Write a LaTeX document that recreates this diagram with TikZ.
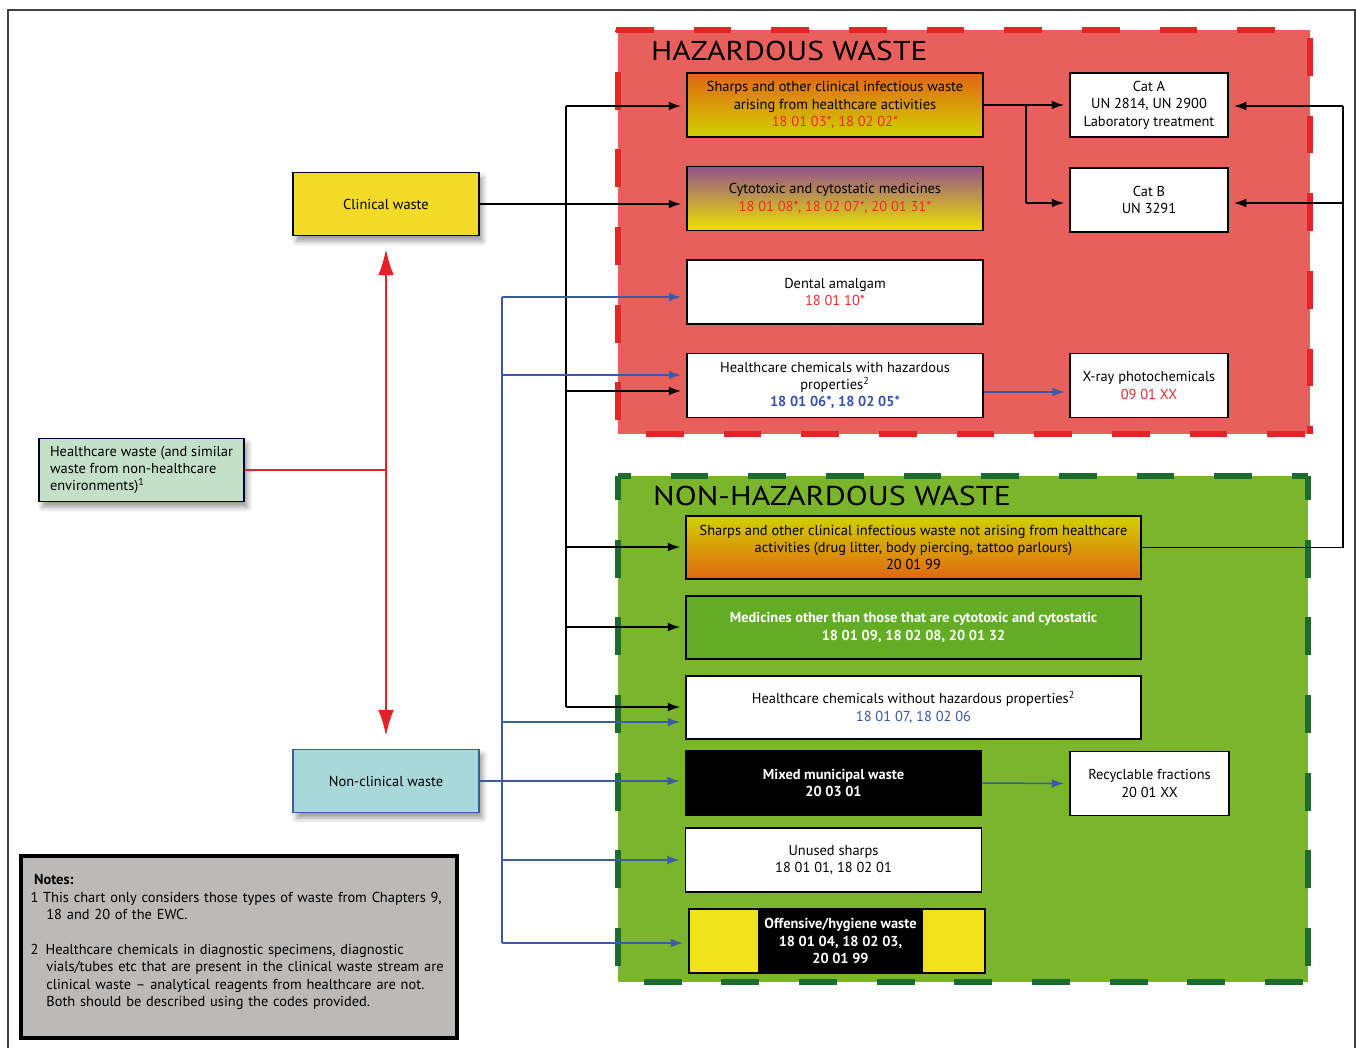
\documentclass[tikz,border=0pt]{standalone}
\usepackage{fontspec}
\setmainfont{PT Sans}
\usetikzlibrary{arrows.meta,calc,shadows.blur}
\definecolor{HazClr}{rgb}{0.91,0.376,0.361}
\definecolor{HazLineClr}{rgb}{0.89,0.145,0.157}
\definecolor{SafeClr}{rgb}{0.478,0.71,0.169}
\definecolor{SafeLineClr}{rgb}{0.118,0.42,0.188}
\definecolor{ClinClr}{rgb}{0.953,0.855,0.149}
\definecolor{SourceClr}{rgb}{0.773,0.878,0.784}
\definecolor{NonClinClr}{rgb}{0.659,0.847,0.855}
\definecolor{NoteClr}{rgb}{0.733,0.729,0.722}
\definecolor{LinkClr}{rgb}{0.231,0.357,0.663}
\definecolor{CodeRedClr}{rgb}{0.93,0.17,0.17}
\definecolor{CodeBlueClr}{rgb}{0.23,0.33,0.66}
\definecolor{MedsClr}{rgb}{0.384,0.678,0.137}
\definecolor{ArrowRedClr}{rgb}{0.89,0.13,0.15}
\definecolor{OrangeClr}{rgb}{0.88,0.40,0.07}
\definecolor{LimeClr}{rgb}{0.82,0.82,0.0}
\definecolor{PurpleClr}{rgb}{0.58,0.32,0.55}
\definecolor{LemonClr}{rgb}{0.92,0.89,0.0}
\definecolor{BagClr}{rgb}{0.94,0.89,0.11}
\definecolor{FrameClr}{rgb}{0.25,0.25,0.25}

\begin{document}
\begin{tikzpicture}[x=0.02cm,y=-0.02cm,
  font=\fontsize{8.2}{9.9}\selectfont,
  wastebox/.style={draw=black,line width=0.8pt,align=center,inner sep=2pt,fill=white},
  widebox/.style={wastebox,minimum width=5.92cm,minimum height=1.28cm},
  sidebox/.style={wastebox,minimum width=3.16cm,minimum height=1.28cm},
  longbox/.style={wastebox,minimum width=9.1cm,minimum height=1.26cm},
  srcbox/.style={draw=black!80!blue,line width=0.8pt,minimum width=3.72cm,minimum height=1.27cm,
    blur shadow={shadow xshift=2pt,shadow yshift=-3pt,shadow blur radius=3pt}},
  zonetitle/.style={anchor=base west,font=\fontsize{15.5}{17}\selectfont},
  link/.style={line width=0.85pt},
  arr/.style={link,-{Latex[length=7pt,width=5pt]},shorten >=3pt},
  bluelink/.style={link,LinkClr},
  bluearr/.style={arr,LinkClr},
  redlink/.style={ArrowRedClr,line width=1.7pt},
  redarr/.style={redlink,-{Latex[length=15pt,width=9pt]},shorten >=7pt},
  hazline/.style={HazLineClr,line width=3.4pt,dash pattern=on 21.5pt off 22.7pt},
  safeline/.style={SafeLineClr,line width=3.4pt,dash pattern=on 21.5pt off 22.7pt}]

\useasboundingbox (0,0) rectangle (1356,1048);
\draw[FrameClr,line width=1pt] (8,1048) -- (8,10) -- (1355,10) -- (1355,1048);

\fill[HazClr] (618,30) rectangle (1310,434);
\draw[hazline] (616,30) -- (1310,30);
\draw[hazline,dash phase=20.4pt] (618,30) -- (618,434);
\draw[hazline,dash phase=28.3pt] (618,434) -- (1310,434);
\draw[hazline,dash phase=39.7pt] (1310,30) -- (1310,434);

\fill[SafeClr] (618,476) rectangle (1308,982);
\draw[safeline,dash phase=14.2pt] (618,476) -- (1308,476);
\draw[safeline,dash phase=7.9pt] (618,476) -- (618,982);
\draw[safeline,dash phase=29.5pt] (618,982) -- (1308,982);
\draw[safeline,dash phase=7.9pt] (1308,476) -- (1308,982);

\node[zonetitle] (hazT) at (645,60) {\scalebox{1.16}[1]{HAZARDOUS WASTE}};
\node[zonetitle] (safeT) at (647,505) {\scalebox{1.18}[1]{NON-HAZARDOUS WASTE}};

\node[srcbox,fill=SourceClr,minimum width=4.1cm,align=left] (src) at (141.5,470) {Healthcare waste (and similar\\waste from non-healthcare\\environments)\textsuperscript{1}};
\node[srcbox,fill=ClinClr] (clin) at (386,204) {Clinical waste};
\node[srcbox,fill=NonClinClr,draw=LinkClr] (nonclin) at (386,781) {Non-clinical waste};

\node[widebox,top color=OrangeClr,bottom color=LimeClr] (sharpsH) at (835,105) {Sharps and other clinical infectious waste\\arising from healthcare activities\\\textcolor{CodeRedClr}{18 01 03*, 18 02 02*}};
\node[widebox,top color=PurpleClr,bottom color=LemonClr] (cyto) at (835,198.5) {Cytotoxic and cytostatic medicines\\\textcolor{CodeRedClr}{18 01 08*, 18 02 07*, 20 01 31*}};
\node[widebox] (dental) at (835,292) {Dental amalgam\\\textcolor{CodeRedClr}{18 01 10*}};
\node[widebox] (chemH) at (835,385.5) {Healthcare chemicals with hazardous\\properties\textsuperscript{2}\\\textcolor{CodeBlueClr}{\bfseries 18 01 06*, 18 02 05*}};
\node[sidebox] (catA) at (1149,105) {Cat A\\UN 2814, UN 2900\\Laboratory treatment};
\node[sidebox] (catB) at (1149,200) {Cat B\\UN 3291};
\node[sidebox] (xray) at (1149,385.5) {X-ray photochemicals\\\textcolor{CodeRedClr}{09 01 XX}};

\node[longbox,top color=LimeClr,bottom color=OrangeClr] (sharpsN) at (913.5,547.5) {Sharps and other clinical infectious waste not arising from healthcare\\activities (drug litter, body piercing, tattoo parlours)\\20 01 99};
\node[longbox,fill=MedsClr,text=white,font=\fontsize{8.2}{9.9}\selectfont\bfseries] (meds) at (913.5,627.5) {Medicines other than those that are cytotoxic and cytostatic\\18 01 09, 18 02 08, 20 01 32};
\node[longbox] (chemN) at (913.5,707.5) {Healthcare chemicals without hazardous properties\textsuperscript{2}\\\textcolor{CodeBlueClr}{18 01 07, 18 02 06}};
\node[widebox,fill=black,text=white,font=\fontsize{8.2}{9.9}\selectfont\bfseries] (mixed) at (833.5,783) {Mixed municipal waste\\20 03 01};
\node[widebox] (unused) at (833.5,860) {Unused sharps\\18 01 01, 18 02 01};
\node[widebox,fill=BagClr] (offens) at (837,941) {};
\node[fill=black,text=white,align=center,inner sep=0pt,minimum width=3.3cm,minimum height=1.24cm,font=\fontsize{8.2}{9.9}\selectfont\bfseries] (offensTxt) at (840.5,941) {Offensive/hygiene waste\\18 01 04, 18 02 03,\\20 01 99};
\node[sidebox,minimum width=3.18cm] (recyc) at (1149.5,783.5) {Recyclable fractions\\20 01 XX};

\node[draw=black,line width=2.2pt,fill=NoteClr,minimum width=8.72cm,minimum height=3.64cm] (notes) at (239,947) {};
\node[align=left,text width=8.3cm] (notesTxt) at (238,942) {\hspace*{2pt}\textbf{Notes:}\\
1 This chart only considers those types of waste from Chapters 9,\\
\hspace*{1.1em}18 and 20 of the EWC.\\[9.9pt]
2\hspace*{0.5em}Healthcare chemicals in diagnostic specimens, diagnostic\\
\hspace*{1.1em}vials/tubes etc that are present in the clinical waste stream are\\
\hspace*{1.1em}clinical waste -- analytical reagents from healthcare are not.\\
\hspace*{1.1em}Both should be described using the codes provided.};

\coordinate (fork) at (386,471);
\draw[redlink] (src.east) -- (src.east -| fork);
\draw[redarr] (fork) -- (clin.south);
\draw[redarr] (fork) -- (nonclin.north);

\coordinate (kA) at (566,106);
\coordinate (kB) at (566,391);
\coordinate (kC) at (566,547);
\coordinate (kD) at (566,627);
\coordinate (kE) at (566,707);
\draw[link] (kA) -- (kE);
\draw[arr] (kA) -- (kA -| sharpsH.west);
\draw[arr] (clin.east) -- (clin.east -| cyto.west);
\draw[arr] (kB) -- (kB -| chemH.west);
\draw[arr] (kC) -- (kC -| sharpsN.west);
\draw[arr] (kD) -- (kD -| meds.west);
\draw[arr] (kE) -- (kE -| chemN.west);

\coordinate (bA) at (502,297);
\coordinate (bB) at (502,375);
\coordinate (bC) at (502,722);
\coordinate (bD) at (502,860);
\coordinate (bE) at (502,943);
\draw[bluelink] (bA) -- (bE);
\draw[bluearr] (bA) -- (bA -| dental.west);
\draw[bluearr] (bB) -- (bB -| chemH.west);
\draw[bluearr] (bC) -- (bC -| chemN.west);
\draw[bluearr] (nonclin.east) -- (nonclin.east -| mixed.west);
\draw[bluearr] (bD) -- (bD -| unused.west);
\draw[bluearr] (bE) -- (bE -| offens.west);

\coordinate (hA) at (1026,105);
\coordinate (hB) at (1026,203);
\draw[arr] (sharpsH.east) -- (catA.west);
\draw[link] (hA) -- (hB);
\draw[arr] (hB) -- (hB -| catB.west);

\coordinate (rA) at (1343,106);
\coordinate (rB) at (1343,203);
\draw[link] (sharpsN.east) -| (rA);
\draw[arr] (rA) -- (rA -| catA.east);
\draw[arr] (rB) -- (rB -| catB.east);

\coordinate (xIn) at (1070,392);
\draw[bluearr] (chemH.east |- xIn) -- (xIn);
\draw[bluearr] (mixed.east) -- (recyc.west);

\end{tikzpicture}
\end{document}
